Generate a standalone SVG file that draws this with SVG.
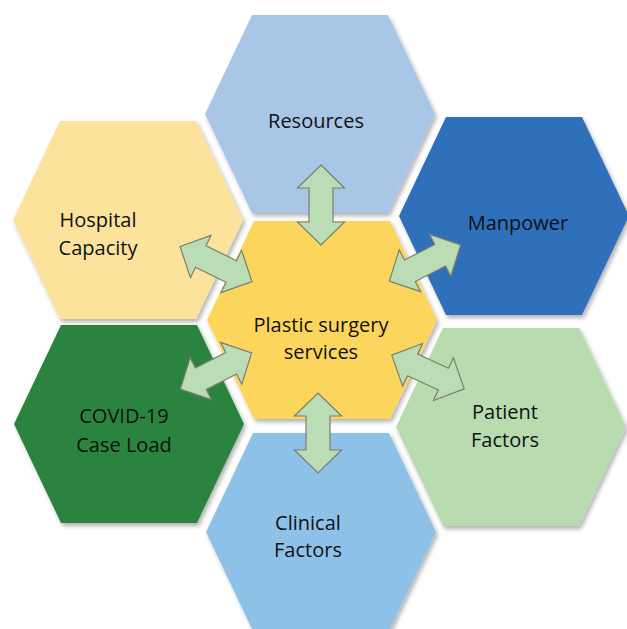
<svg xmlns="http://www.w3.org/2000/svg" xmlns:xlink="http://www.w3.org/1999/xlink" width="627" height="629" viewBox="0 0 627 629">
<style>
  .hex { filter: url(#sh); }
  .lbl { font-family: "Open Sans", "Liberation Sans", sans-serif; font-size: 20px; fill: #111; text-anchor: middle; }
  .arr { fill: #BADDB6; stroke: #7D7D70; stroke-width: 1.2; stroke-linejoin: miter; }
</style>
<defs>
  <filter id="sh" x="-10%" y="-10%" width="125%" height="125%">
    <feDropShadow dx="2" dy="3" stdDeviation="2" flood-color="#000" flood-opacity="0.3"/>
  </filter>
  <polygon id="hexshape" points="-115,0 -68,-99 68,-99 115,0 68,99 -68,99"/>
  <polygon id="arrowshape" points="-40,0 -17,-23.5 -17,-12 17,-12 17,-23.5 40,0 17,23.5 17,12 -17,12 -17,23.5"/>
</defs>
<rect width="627" height="629" fill="#ffffff"/>

<g id="node-resources">
  <use xlink:href="#hexshape" href="#hexshape" class="hex" fill="#A9C6E7" transform="translate(320,114)"/>
  <text class="lbl" x="316" y="128">Resources</text>
</g>
<g id="node-hospital">
  <use xlink:href="#hexshape" href="#hexshape" class="hex" fill="#FBE39C" transform="translate(128,220)"/>
  <text class="lbl" x="98" y="227">Hospital</text>
  <text class="lbl" x="98" y="255">Capacity</text>
</g>
<g id="node-manpower">
  <use xlink:href="#hexshape" href="#hexshape" class="hex" fill="#2E70BA" transform="translate(514,216)"/>
  <text class="lbl" x="518" y="230">Manpower</text>
</g>
<g id="node-covid">
  <use xlink:href="#hexshape" href="#hexshape" class="hex" fill="#2A8440" transform="translate(129,424)"/>
  <text class="lbl" x="124" y="423">COVID-19</text>
  <text class="lbl" x="124" y="452">Case Load</text>
</g>
<g id="node-patient">
  <use xlink:href="#hexshape" href="#hexshape" class="hex" fill="#B8DBB0" transform="translate(511,427)"/>
  <text class="lbl" x="505" y="419">Patient</text>
  <text class="lbl" x="505" y="447">Factors</text>
</g>
<g id="node-clinical">
  <use xlink:href="#hexshape" href="#hexshape" class="hex" fill="#8DC1E8" transform="translate(321,532)"/>
  <text class="lbl" x="308" y="530">Clinical</text>
  <text class="lbl" x="308" y="557">Factors</text>
</g>
<g id="node-center">
  <use xlink:href="#hexshape" href="#hexshape" class="hex" fill="#FCD65C" transform="translate(322,320)"/>
  <text class="lbl" x="321" y="332">Plastic surgery</text>
  <text class="lbl" x="321" y="359">services</text>
</g>

<g id="connectors">
  <use xlink:href="#arrowshape" href="#arrowshape" class="arr" transform="translate(321,205) rotate(90)"/>
  <use xlink:href="#arrowshape" href="#arrowshape" class="arr" transform="translate(318,433) rotate(90)"/>
  <use xlink:href="#arrowshape" href="#arrowshape" class="arr" transform="translate(216,264) rotate(26)"/>
  <use xlink:href="#arrowshape" href="#arrowshape" class="arr" transform="translate(425,263) rotate(-27)"/>
  <use xlink:href="#arrowshape" href="#arrowshape" class="arr" transform="translate(216,371) rotate(-27)"/>
  <use xlink:href="#arrowshape" href="#arrowshape" class="arr" transform="translate(428,372) rotate(25)"/>
</g>
</svg>
